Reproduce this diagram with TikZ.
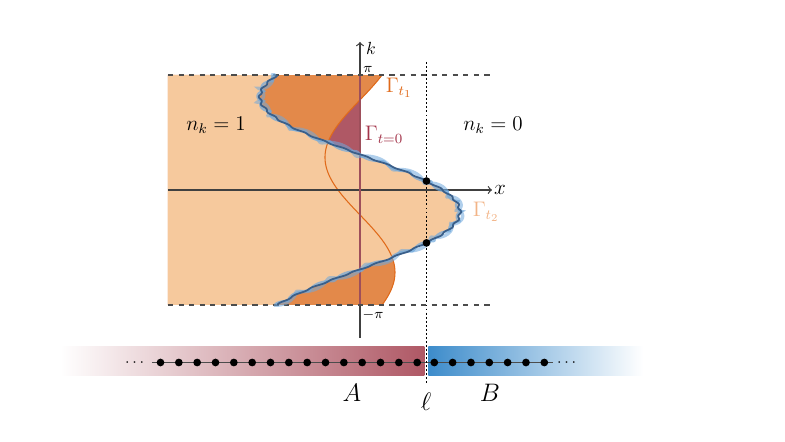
\documentclass[tikz,border=0pt]{standalone}
\usepackage{amsmath}
\definecolor{fermi}{HTML}{F6C99D}
\definecolor{tone}{HTML}{E3894A}
\definecolor{toneline}{HTML}{E06A1A}
\definecolor{wine}{HTML}{AF5865}
\definecolor{winetext}{HTML}{A3344A}
\definecolor{peach}{HTML}{F2B487}
\definecolor{sky}{HTML}{6FA8DC}
\definecolor{navy}{HTML}{3A5F8A}
\definecolor{barblue}{HTML}{3D8CCB}
\begin{document}
\begin{tikzpicture}[axis/.style={black!75, line width=0.7pt}, site/.style={circle, fill=black, inner sep=0pt, minimum size=4.4pt}, bound/.style={black!70, dashed, line width=0.6pt}, cut/.style={black, dash pattern=on 1.1pt off 1.2pt, line width=1.1pt}]
\useasboundingbox (-7.2,-5.04) rectangle (8.5,3.8);
\coordinate (bl) at (-3.84,-2.3);
\coordinate (tl) at (-3.84,2.3);
\coordinate (br) at (2.6,-2.3);
\coordinate (tr) at (2.6,2.3);
\coordinate (kb) at (0,-2.3);
\coordinate (kt) at (0,2.3);
\fill[wine] (kb) -- plot[domain=-pi:pi, samples=120] ({-0.7*sin(deg(\x+0.68))},{0.7321*\x}) -- (kt) -- cycle;
\fill[tone] (bl) -- plot[domain=-pi:pi, samples=120] ({-0.7*sin(deg(\x+0.68))},{0.7321*\x}) -- (tl) -- cycle;
\fill[fermi] (bl) -- plot[domain=-pi:pi, samples=160] ({2*cos(deg(\x+0.6))},{0.7321*\x}) -- (tl) -- cycle;
\draw[toneline, line width=0.6pt] plot[domain=-pi:pi, samples=120] ({-0.7*sin(deg(\x+0.68))},{0.7321*\x});
\coordinate (xl) at (-3.84,0);
\coordinate (xr) at (2.64,0);
\coordinate (ka) at (0,-2.96);
\coordinate (kz) at (0,2.96);
\draw[axis, ->] (xl) -- (xr);
\draw[axis, ->] (ka) -- (kz);
\draw[wine!90!black, line width=0.9pt] (kb) -- (kt);
\draw[bound] (tl) -- (tr);
\draw[bound] (bl) -- (br);
\draw[sky, opacity=0.55, line width=2pt] plot[domain=-pi:pi, samples=400] ({2*cos(deg(\x+0.6))+0.07*cos(deg(17*\x))},{0.7321*\x+0.05*sin(deg(17*\x))});
\draw[sky, opacity=0.7, line width=1.4pt] plot[domain=-pi:pi, samples=400] ({2*cos(deg(\x+0.6))+0.05*sin(deg(23*\x+40))},{0.7321*\x+0.03*cos(deg(23*\x+40))});
\draw[navy, line width=1pt] plot[domain=-pi:pi, samples=400] ({2*cos(deg(\x+0.6))+0.025*sin(deg(29*\x))},{0.7321*\x});
\node (k) at (0.22,2.84) {$k$};
\node[font=\large] (x) at (2.8,0) {$x$};
\node[font=\footnotesize] (pi) at (0.16,2.42) {$\pi$};
\node[font=\footnotesize] (mpi) at (0.26,-2.5) {$-\pi$};
\node[font=\large] (n1) at (-2.88,1.3) {$n_k=1$};
\node[font=\large] (n0) at (2.66,1.3) {$n_k=0$};
\node[text=toneline, font=\large] (g1) at (0.78,2.04) {$\Gamma_{t_1}$};
\node[text=winetext, font=\large] (g0) at (0.48,1.1) {$\Gamma_{t=0}$};
\node[text=peach, font=\large] (g2) at (2.52,-0.44) {$\Gamma_{t_2}$};
\shade[left color=white, right color=wine] (-6.0,-3.72) rectangle (1.29,-3.14);
\shade[left color=barblue, right color=white] (1.37,-3.72) rectangle (5.66,-3.14);
\coordinate (cl) at (-4.16,-3.45);
\coordinate (cr) at (3.86,-3.45);
\draw[black!70, line width=0.8pt] (cl) -- (cr);
\foreach \i in {0,...,14}
  \node[site] (a\i) at ({-3.99+0.3667*\i},-3.45) {};
\foreach \i in {0,...,6}
  \node[site] (b\i) at ({1.486+0.3667*\i},-3.45) {};
\node[font=\small] (dl) at (-4.48,-3.45) {$\cdots$};
\node[font=\small] (dr) at (4.16,-3.45) {$\cdots$};
\coordinate (ct) at (1.33,2.56);
\coordinate (cb) at (1.33,-3.86);
\draw[cut] (ct) -- (cb);
\node[site] (p1) at (1.33,0.179) {};
\node[site] (p2) at (1.33,-1.058) {};
\node[font=\Large] (A) at (-0.16,-4.06) {$A$};
\node[font=\Large] (B) at (2.6,-4.06) {$B$};
\node[font=\Large] (l) at (1.32,-4.24) {$\ell$};
\end{tikzpicture}
\end{document}
